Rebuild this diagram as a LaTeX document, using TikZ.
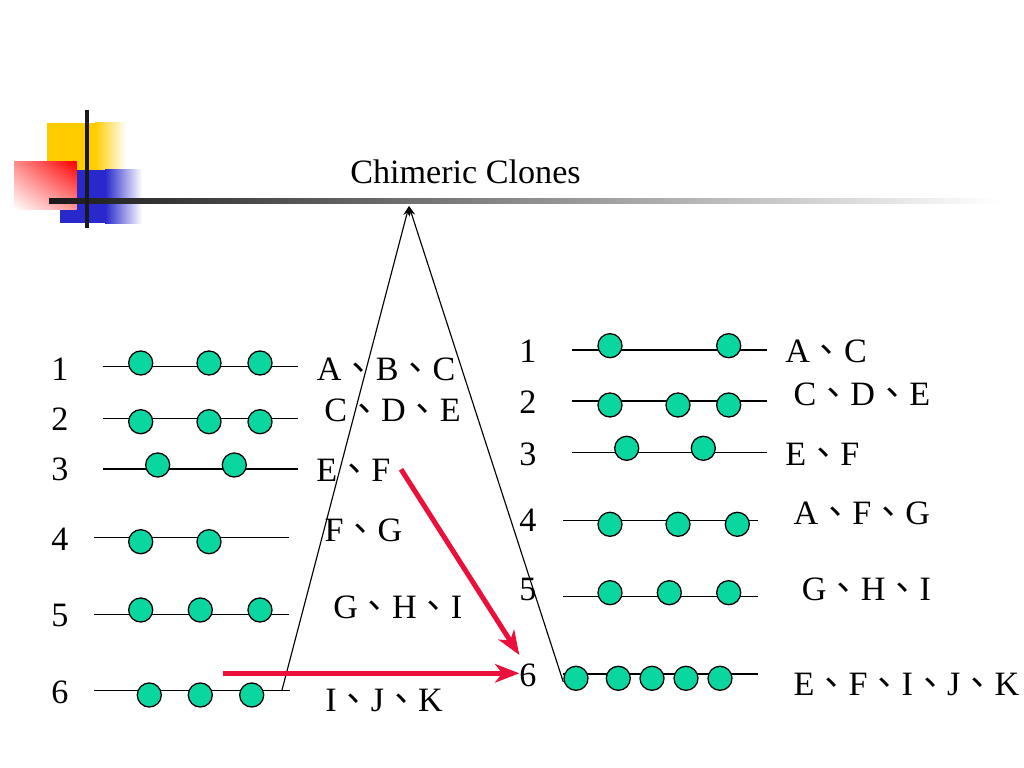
\documentclass[tikz,border=0pt]{standalone}
\usepackage{fontspec}
\setmainfont{Liberation Serif}
\newfontfamily\cjkfont{Noto Sans CJK TC}
\usetikzlibrary{arrows.meta,shadings}
\newcommand\dn{{\cjkfont 、}}
\definecolor{beadc}{RGB}{10,215,160}
\definecolor{redarrow}{RGB}{235,15,60}
\definecolor{hdyellow}{RGB}{255,204,0}
\definecolor{hdblue}{RGB}{40,40,205}
\definecolor{hdred}{RGB}{255,0,0}
\begin{document}
\begin{tikzpicture}[x=0.703125pt,y=-0.703125pt,
  font=\fontsize{24}{28}\selectfont,
  bead/.style={circle,draw=black,line width=0.9pt,fill=beadc,minimum size=16.9pt,inner sep=0pt},
  lbl/.style={anchor=base west,inner sep=0pt},
  num/.style={anchor=base,inner sep=0pt},
  clone/.style={line width=0.9pt},
  tri/.style={line width=0.8pt,-{Stealth[length=7pt,width=4.5pt]}},
  redarr/.style={draw=redarrow,line width=3.5pt,-{Stealth[length=17pt,width=13pt,inset=5pt]}}]
\useasboundingbox[fill=white] (0,0) rectangle (1024,768);

% ---- header decoration
\fill[hdyellow] (46.7,122.7) rectangle (95.5,172);
\shade[left color=hdyellow,right color=white] (95,122.7) rectangle (126,172);
\fill[hdblue] (60,170) rectangle (105.5,223.3);
\shade[left color=hdblue,right color=white] (105,170) rectangle (142,223.3);
\shade[upper left=hdred!45!white,upper right=hdred,lower left=white,lower right=hdred!40!white] (14,161.7) rectangle (76.7,210);
\shade[left color=black!90,right color=white] (49,199) rectangle (1000,203.5);
\draw[line width=3pt,black!90] (87.3,110) -- (87.3,228.3);

\node[anchor=base west,inner sep=0pt] (title) at (350,183.3) {Chimeric Clones};

% ---- triangle
\coordinate (apex) at (409,206);
\coordinate (tl) at (282,690);
\coordinate (tr) at (563.3,682);
\draw[tri] (tl) -- (apex);
\draw[tri] (tr) -- (apex);

% ---- left clones
\draw[clone] (102.7,366.7) coordinate (L1s) -- (298,366.7) coordinate (L1e);
\draw[clone] (102.7,418.3) coordinate (L2s) -- (298,418.3) coordinate (L2e);
\draw[clone] (102.7,469) coordinate (L3s) -- (298,469) coordinate (L3e);
\draw[clone] (94.3,537.3) coordinate (L4s) -- (289.3,537.3) coordinate (L4e);
\draw[clone] (94.3,614.3) coordinate (L5s) -- (289.3,614.3) coordinate (L5e);
\draw[clone] (94.3,690.7) coordinate (L6s) -- (290,690.7) coordinate (L6e);

\foreach \x/\n in {140.7/a,209/b,260/c} \node[bead] (L1\n) at (\x,363) {};
\foreach \x/\n in {140.7/a,209/b,260/c} \node[bead] (L2\n) at (\x,421.7) {};
\foreach \x/\n in {157.7/a,234.3/b} \node[bead] (L3\n) at (\x,465) {};
\foreach \x/\n in {140.7/a,209/b} \node[bead] (L4\n) at (\x,541.7) {};
\foreach \x/\n in {140.7/a,200.3/b,260/c} \node[bead] (L5\n) at (\x,610) {};
\foreach \x/\n in {149.3/a,200.3/b,251.7/c} \node[bead] (L6\n) at (\x,695) {};

\node[num] (ln1) at (60,380) {1};
\node[num] (ln2) at (60,430.7) {2};
\node[num] (ln3) at (60,480) {3};
\node[num] (ln4) at (60,550) {4};
\node[num] (ln5) at (60,626.7) {5};
\node[num] (ln6) at (60,703.3) {6};

\node[lbl] (lt1) at (316.7,380) {A\dn B\dn C};
\node[lbl] (lt2) at (324,421.7) {C\dn D\dn E};
\node[lbl] (lt3) at (316,481.7) {E\dn F};
\node[lbl] (lt4) at (324.3,541.7) {F\dn G};
\node[lbl] (lt5) at (333,618) {G\dn H\dn I};
\node[lbl] (lt6) at (325,711.7) {I\dn J\dn K};

% ---- right clones
\draw[clone] (571.7,350) coordinate (R1s) -- (766.7,350) coordinate (R1e);
\draw[clone] (571.7,401) coordinate (R2s) -- (766.7,401) coordinate (R2e);
\draw[clone] (571.7,452.3) coordinate (R3s) -- (766.7,452.3) coordinate (R3e);
\draw[clone] (563.3,520.3) coordinate (R4s) -- (758.3,520.3) coordinate (R4e);
\draw[clone] (563.3,596.7) coordinate (R5s) -- (758.3,596.7) coordinate (R5e);
\draw[clone] (563.3,674) coordinate (R6s) -- (758.3,674) coordinate (R6e);

\foreach \x/\n in {610/a,728.7/b} \node[bead] (R1\n) at (\x,345.7) {};
\foreach \x/\n in {610/a,678/b,728.7/c} \node[bead] (R2\n) at (\x,405) {};
\foreach \x/\n in {626.7/a,703.3/b} \node[bead] (R3\n) at (\x,448.3) {};
\foreach \x/\n in {610/a,678/b,737.3/c} \node[bead] (R4\n) at (\x,524.3) {};
\foreach \x/\n in {610/a,669.3/b,728.7/c} \node[bead] (R5\n) at (\x,592.7) {};
\foreach \x/\n in {576/a,618.3/b,652/c,686/d,720/e} \node[bead] (R6\n) at (\x,678.3) {};

\node[num] (rn1) at (528,362.7) {1};
\node[num] (rn2) at (528,413.3) {2};
\node[num] (rn3) at (528,465) {3};
\node[num] (rn4) at (528,531.7) {4};
\node[num] (rn5) at (528,600) {5};
\node[num] (rn6) at (528,686.7) {6};

\node[lbl] (rt1) at (785,362.7) {A\dn C};
\node[lbl] (rt2) at (793.3,405) {C\dn D\dn E};
\node[lbl] (rt3) at (785,465) {E\dn F};
\node[lbl] (rt4) at (793.3,524) {A\dn F\dn G};
\node[lbl] (rt5) at (801.7,600.7) {G\dn H\dn I};
\node[lbl] (rt6) at (793.3,695) {E\dn F\dn I\dn J\dn K};

% ---- red arrows
\coordinate (dstart) at (401,469.3);
\coordinate (dend) at (519.3,655);
\coordinate (hstart) at (222.7,673.3);
\coordinate (hend) at (519.3,673.3);
\draw[redarr] (dstart) -- (dend);
\draw[redarr] (hstart) -- (hend);
\end{tikzpicture}
\end{document}
